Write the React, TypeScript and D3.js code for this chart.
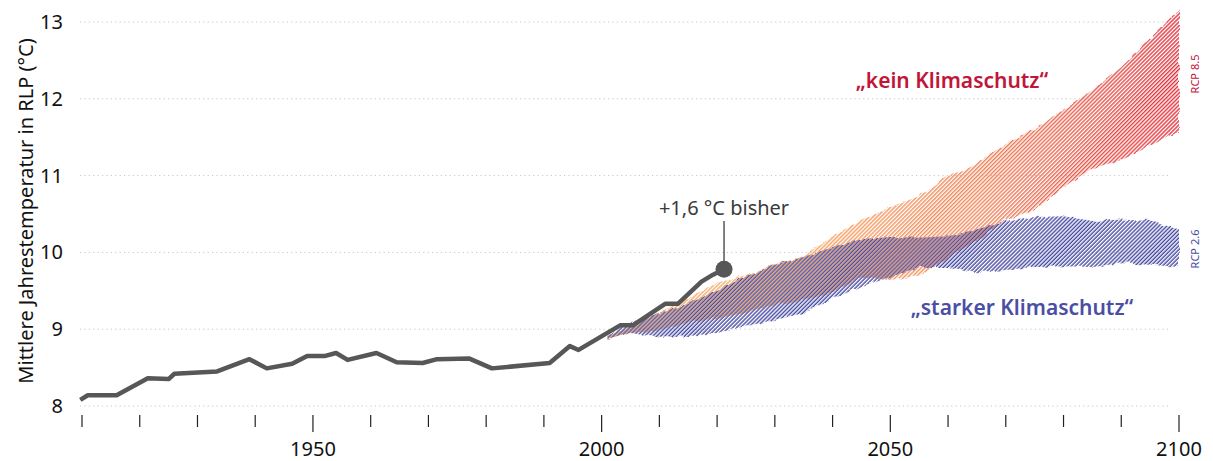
import React, { useEffect, useRef } from "react";
import * as d3 from "d3";

// observed annual mean temperature (smoothed), Rhineland-Palatinate
const histYears = [1909.7, 1911, 1916, 1921.4, 1925, 1926, 1933.4, 1939, 1942, 1946.4, 1949, 1952, 1954, 1956, 1961, 1964.5, 1969, 1971.5, 1977, 1981, 1991, 1994.5, 1996, 2003.2, 2005.4, 2011, 2013.2, 2017.3, 2019.3, 2021.2];
const histTemps = [8.08, 8.14, 8.14, 8.36, 8.35, 8.42, 8.45, 8.61, 8.49, 8.55, 8.65, 8.65, 8.69, 8.6, 8.69, 8.57, 8.56, 8.61, 8.62, 8.49, 8.56, 8.78, 8.73, 9.05, 9.05, 9.33, 9.33, 9.62, 9.71, 9.78];

// projection ranges
const projYears = [2001, 2005, 2010, 2015, 2020, 2025, 2030, 2035, 2040, 2045, 2050, 2055, 2060, 2065, 2070, 2075, 2080, 2085, 2090, 2095, 2100];
const rcp85High = [8.91, 9.03, 9.22, 9.41, 9.6, 9.71, 9.85, 9.95, 10.2, 10.42, 10.59, 10.73, 10.99, 11.15, 11.42, 11.61, 11.85, 12.11, 12.41, 12.79, 13.15];
const rcp85Low = [8.86, 8.95, 8.99, 9.09, 9.15, 9.21, 9.32, 9.38, 9.48, 9.67, 9.64, 9.7, 9.93, 10.16, 10.42, 10.55, 10.85, 11.1, 11.2, 11.39, 11.57];
const rcp26High = [8.91, 9.09, 9.21, 9.33, 9.5, 9.69, 9.84, 9.94, 10.07, 10.17, 10.2, 10.19, 10.21, 10.3, 10.4, 10.46, 10.47, 10.41, 10.43, 10.41, 10.3];
const rcp26Low = [8.86, 8.95, 8.89, 8.91, 8.95, 9.04, 9.12, 9.21, 9.41, 9.56, 9.68, 9.81, 9.81, 9.74, 9.77, 9.81, 9.82, 9.81, 9.86, 9.84, 9.81];

const yTicks = [8, 9, 10, 11, 12, 13];
const xTicks = [1910, 1920, 1930, 1940, 1950, 1960, 1970, 1980, 1990, 2000, 2010, 2020, 2030, 2040, 2050, 2060, 2070, 2080, 2090, 2100];
const xLabels = [1950, 2000, 2050, 2100];

const FONT = "'Noto Sans', 'Open Sans', sans-serif";

export default function App() {
  const ref = useRef<SVGSVGElement>(null);

  useEffect(() => {
    const svg = d3.select(ref.current);
    svg.selectAll("*").remove();

    const x = d3.scaleLinear().domain([1910, 2100]).range([82, 1179]);
    const y = d3.scaleLinear().domain([8, 13]).range([406, 22]);

    const defs = svg.append("defs");

    const grad = defs.append("linearGradient")
      .attr("id", "orangeRed")
      .attr("gradientUnits", "userSpaceOnUse")
      .attr("x1", x(2030)).attr("x2", x(2100))
      .attr("y1", 0).attr("y2", 0);
    grad.append("stop").attr("offset", "0%").attr("stop-color", "#f7a965");
    grad.append("stop").attr("offset", "50%").attr("stop-color", "#f0865a");
    grad.append("stop").attr("offset", "100%").attr("stop-color", "#e02f3c");

    // ragged edges for the model ranges
    const rough = defs.append("filter")
      .attr("id", "rough")
      .attr("x", "-5%").attr("y", "-5%")
      .attr("width", "110%").attr("height", "110%");
    rough.append("feTurbulence")
      .attr("type", "fractalNoise")
      .attr("baseFrequency", "0.12")
      .attr("numOctaves", 2)
      .attr("seed", 3)
      .attr("result", "noise");
    rough.append("feDisplacementMap")
      .attr("in", "SourceGraphic")
      .attr("in2", "noise")
      .attr("scale", 5)
      .attr("xChannelSelector", "R")
      .attr("yChannelSelector", "G");

    // two hatch masks, shifted by half a period so overlapping bands interleave
    [["hatchA", 0.7], ["hatchB", 2.1]].forEach(([id, off]) => {
      defs.append("pattern")
        .attr("id", id + "p")
        .attr("patternUnits", "userSpaceOnUse")
        .attr("width", 2.8).attr("height", 2.8)
        .attr("patternTransform", "rotate(45)")
        .append("line")
        .attr("x1", off).attr("x2", off)
        .attr("y1", 0).attr("y2", 2.8)
        .attr("stroke", "white")
        .attr("stroke-width", 1.45);
      defs.append("mask")
        .attr("id", id)
        .attr("maskUnits", "userSpaceOnUse")
        .attr("x", 0).attr("y", 0).attr("width", 1213).attr("height", 461)
        .append("rect")
        .attr("width", 1213).attr("height", 461)
        .attr("fill", `url(#${id}p)`);
    });

    // grid
    svg.append("g").selectAll("line")
      .data(yTicks)
      .join("line")
      .attr("x1", 80).attr("x2", 1170)
      .attr("y1", d => y(d)).attr("y2", d => y(d))
      .attr("stroke", "#c4c4c4")
      .attr("stroke-width", 1)
      .attr("stroke-dasharray", "1.2,3.2");

    svg.append("g").selectAll("text")
      .data(yTicks)
      .join("text")
      .attr("x", 63)
      .attr("y", d => y(d))
      .attr("dy", "0.35em")
      .attr("text-anchor", "end")
      .style("font-family", FONT)
      .style("font-size", "20px")
      .attr("fill", "#111")
      .text(d => d);

    svg.append("text")
      .attr("transform", "translate(33,211) rotate(-90)")
      .attr("text-anchor", "middle")
      .style("font-family", FONT)
      .style("font-size", "20px")
      .attr("fill", "#111")
      .text("Mittlere Jahrestemperatur in RLP (°C)");

    // x axis ticks
    svg.append("g").selectAll("line")
      .data(xTicks)
      .join("line")
      .attr("x1", d => x(d)).attr("x2", d => x(d))
      .attr("y1", 415)
      .attr("y2", d => (xLabels.includes(d) ? 432 : 427))
      .attr("stroke", "#222")
      .attr("stroke-width", 1.2);

    svg.append("g").selectAll("text")
      .data(xLabels)
      .join("text")
      .attr("x", d => x(d))
      .attr("y", 456)
      .attr("text-anchor", "middle")
      .style("font-family", FONT)
      .style("font-size", "20px")
      .attr("fill", "#111")
      .text(d => d);

    // projection bands
    const band = (lo: number[], hi: number[]) =>
      d3.area<number>()
        .x((d, i) => x(projYears[i]))
        .y0((d, i) => y(lo[i]))
        .y1((d, i) => y(hi[i]))(projYears);

    svg.append("g")
      .attr("mask", "url(#hatchA)")
      .append("path")
      .attr("d", band(rcp85Low, rcp85High))
      .attr("fill", "url(#orangeRed)")
      .attr("filter", "url(#rough)");

    svg.append("g")
      .attr("mask", "url(#hatchB)")
      .append("path")
      .attr("d", band(rcp26Low, rcp26High))
      .attr("fill", "#474ca1")
      .attr("filter", "url(#rough)");

    // observed line
    const line = d3.line<number>()
      .x((d, i) => x(histYears[i]))
      .y(d => y(d));

    svg.append("path")
      .attr("d", line(histTemps))
      .attr("fill", "none")
      .attr("stroke", "#575757")
      .attr("stroke-width", 4.5)
      .attr("stroke-linejoin", "round");

    const lastX = x(histYears[histYears.length - 1]);
    const lastY = y(histTemps[histTemps.length - 1]);

    svg.append("circle")
      .attr("cx", lastX).attr("cy", lastY)
      .attr("r", 8.5)
      .attr("fill", "#575757");

    svg.append("line")
      .attr("x1", lastX).attr("x2", lastX)
      .attr("y1", 221).attr("y2", lastY)
      .attr("stroke", "#575757")
      .attr("stroke-width", 1.5);

    svg.append("text")
      .attr("x", lastX)
      .attr("y", 215)
      .attr("text-anchor", "middle")
      .style("font-family", FONT)
      .style("font-size", "20px")
      .attr("fill", "#3a3a3a")
      .text("+1,6 °C bisher");

    // scenario labels
    svg.append("text")
      .attr("x", 952).attr("y", 88)
      .attr("text-anchor", "middle")
      .style("font-family", FONT)
      .style("font-size", "21px")
      .style("font-weight", 600)
      .attr("fill", "#c0163a")
      .text("„kein Klimaschutz“");

    svg.append("text")
      .attr("x", 1022).attr("y", 315)
      .attr("text-anchor", "middle")
      .style("font-family", FONT)
      .style("font-size", "21px")
      .style("font-weight", 600)
      .attr("fill", "#4a4fa3")
      .text("„starker Klimaschutz“");

    svg.append("text")
      .attr("transform", "translate(1199,74) rotate(-90)")
      .attr("text-anchor", "middle")
      .style("font-family", FONT)
      .style("font-size", "11px")
      .attr("fill", "#c0163a")
      .text("RCP 8.5");

    svg.append("text")
      .attr("transform", "translate(1199,249) rotate(-90)")
      .attr("text-anchor", "middle")
      .style("font-family", FONT)
      .style("font-size", "11px")
      .attr("fill", "#4a4fa3")
      .text("RCP 2.6");
  }, []);

  return (
    <svg
      ref={ref}
      width={1213}
      height={461}
      style={{ position: "absolute", left: 0, top: 0, background: "#fff" }}
    />
  );
}
